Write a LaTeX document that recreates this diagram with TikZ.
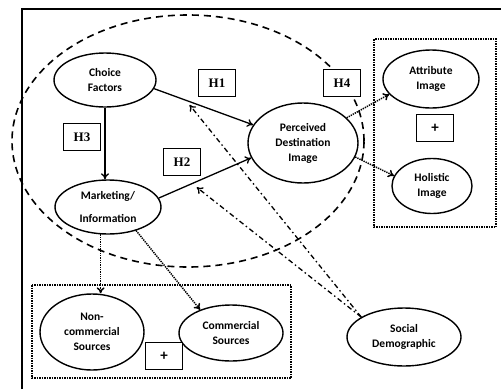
\documentclass[tikz,border=0pt]{standalone}
\usepackage{fontspec}
\setmainfont{Carlito}
\newfontfamily\hfont{Liberation Serif}
\usepackage{tikz}
\usetikzlibrary{positioning, arrows, arrows.meta, shapes.geometric}

\begin{document}
\begin{tikzpicture}[x=1pt, y=-1pt,
  factor/.style={draw, ellipse, line width=1.4pt, inner sep=0pt, align=center,
    font=\fontsize{11.5}{15}\selectfont\bfseries},
  hyp/.style={draw, fill=white, line width=1.4pt, minimum width=37pt, minimum height=27pt,
    inner sep=0pt, font=\hfont\fontsize{13}{13}\selectfont\bfseries},
  plusbox/.style={hyp, font=\fontsize{15}{15}\selectfont\bfseries},
  link/.style={-{To[length=6pt,width=8pt]}, line width=1.3pt},
  infolink/.style={link, densely dotted, line width=1.5pt},
  modlink/.style={link, dash pattern=on 5pt off 3pt on 1.5pt off 3pt, shorten >=6pt},
  group/.style={densely dotted, line width=1.5pt}]

\useasboundingbox (0,0) rectangle (501,389);

% --- frame and groups ---
\draw[line width=2pt] (22,389) -- (22,9) -- (501,9);
\draw[dash pattern=on 7pt off 5pt, line width=1.6pt] (188,141) ellipse [x radius=176pt, y radius=126pt];
\draw[group] (374,39) rectangle (496,227);
\draw[group] (32,285) rectangle (291,378);

% --- factors ---
\node[factor, minimum width=102pt, minimum height=54pt] (choice) at (105,80) {Choice\\Factors};
\node[factor, minimum width=106pt, minimum height=54pt] (market) at (108,207) {Marketing/\\[8pt]Information};
\node[factor, minimum width=110pt, minimum height=80pt] (pdi) at (303,143) {Perceived\\Destination\\Image};
\node[factor, minimum width=96pt, minimum height=58pt] (attr) at (431,79) {Attribute\\Image};
\node[factor, minimum width=80pt, minimum height=55pt] (holi) at (432,186) {Holistic\\Image};
\node[factor, minimum width=104pt, minimum height=76pt] (noncom) at (92,332) {Non-\\commercial\\Sources};
\node[factor, minimum width=104pt, minimum height=56pt] (comm) at (231,333) {Commercial\\Sources};
\node[factor, minimum width=114pt, minimum height=58pt] (social) at (404,337) {Social\\Demographic};

% --- hypotheses ---
\node[hyp] (h1) at (217,83) {H1};
\node[hyp] (h2) at (182,162) {H2};
\node[hyp] (h3) at (82,137) {H3};
\node[hyp] (h4) at (342,83) {H4};
\node[plusbox] (plusR) at (435,128) {+};
\node[plusbox] (plusB) at (164,356) {+};

% --- paths ---
\draw[link] (choice.south) -- (choice.south |- market.north);
\draw[link] (choice.-10) -- coordinate[pos=0.32] (h1pt) (pdi.160);
\draw[link] (market.10) -- coordinate[pos=0.36] (h2pt) (pdi.196);
\draw[infolink] (pdi.30) -- (attr.200);
\draw[infolink] (pdi.-15) -- (holi.165);
\draw[infolink] (market.255) -- (market.255 |- noncom.north);
\draw[infolink] (market.-40) -- (comm.143);
\draw[modlink] (social.155) -- (h1pt);
\draw[modlink] (social.155) -- (h2pt);

\end{tikzpicture}
\end{document}
